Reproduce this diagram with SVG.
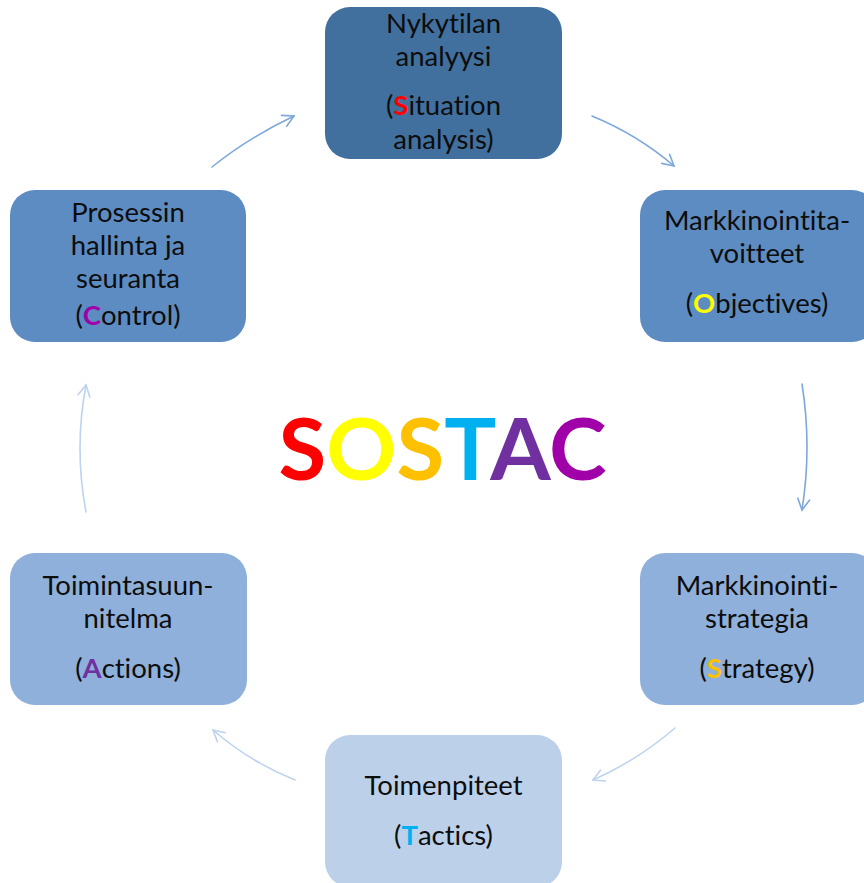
<svg xmlns="http://www.w3.org/2000/svg" width="864" height="883" viewBox="0 0 864 883">
  <style>
    .box { stroke: none; }
    .lbl { font-family: Lato, "Open Sans", "Liberation Sans", sans-serif; font-size: 27.5px; fill: #0d0d0d; text-anchor: middle; font-variant-ligatures: none; }
    .key { font-weight: bold; }
    .title { font-family: Lato, "Open Sans", "Liberation Sans", sans-serif; font-size: 87px; font-weight: bold; text-anchor: middle; }
    .arc { fill: none; stroke-width: 1.6; stroke-linecap: round; }
    .dark { stroke: #7DA8DA; }
    .light { stroke: #BDD3EE; }
  </style>
  <defs>
    <marker id="headDark" markerWidth="14" markerHeight="14" refX="0" refY="0" viewBox="-12 -7 14 14" orient="auto" markerUnits="userSpaceOnUse">
      <path d="M-11,-6 L0,0 L-11,6" fill="none" stroke="#7DA8DA" stroke-width="1.6" stroke-linecap="round"/>
    </marker>
    <marker id="headLight" markerWidth="14" markerHeight="14" refX="0" refY="0" viewBox="-12 -7 14 14" orient="auto" markerUnits="userSpaceOnUse">
      <path d="M-11,-6 L0,0 L-11,6" fill="none" stroke="#BDD3EE" stroke-width="1.6" stroke-linecap="round"/>
    </marker>
  </defs>

  <rect width="864" height="883" fill="#ffffff"/>

  <!-- cycle connectors -->
  <g id="connectors">
    <path class="arc dark" d="M212,167 Q248,138 294,116" marker-end="url(#headDark)"/>
    <path class="arc dark" d="M592,116 Q638,135 674,166" marker-end="url(#headDark)"/>
    <path class="arc dark" d="M802,384 Q812,447 802,510" marker-end="url(#headDark)"/>
    <path class="arc light" d="M675,728 Q638,760 593,780" marker-end="url(#headLight)"/>
    <path class="arc light" d="M295,780 Q250,762 213,730" marker-end="url(#headLight)"/>
    <path class="arc light" d="M86,512 Q74,448 86,385" marker-end="url(#headLight)"/>
  </g>

  <!-- S: situation analysis -->
  <g id="situation">
    <rect class="box" x="325" y="7" width="237" height="152" rx="25" fill="#41709E"/>
    <text class="lbl" x="443.5" y="33">Nykytilan</text>
    <text class="lbl" x="443.5" y="66">analyysi</text>
    <text class="lbl" x="443.5" y="115">(<tspan class="key" fill="#FF0000">S</tspan>ituation</text>
    <text class="lbl" x="443.5" y="149">analysis)</text>
  </g>

  <!-- O: objectives -->
  <g id="objectives">
    <rect class="box" x="640" y="190" width="237" height="152" rx="25" fill="#5D8CC3"/>
    <text class="lbl" x="757" y="230">Markkinointita-</text>
    <text class="lbl" x="757" y="263">voitteet</text>
    <text class="lbl" x="757" y="313">(<tspan class="key" fill="#FFFF00">O</tspan>bjectives)</text>
  </g>

  <!-- S: strategy -->
  <g id="strategy">
    <rect class="box" x="640" y="553" width="237" height="152" rx="25" fill="#8EB0DA"/>
    <text class="lbl" x="757" y="595">Markkinointi-</text>
    <text class="lbl" x="757" y="628">strategia</text>
    <text class="lbl" x="757" y="678">(<tspan class="key" fill="#FFC000">S</tspan>trategy)</text>
  </g>

  <!-- T: tactics -->
  <g id="tactics">
    <rect class="box" x="325" y="735" width="237" height="152" rx="25" fill="#BCD0EA"/>
    <text class="lbl" x="443.5" y="795">Toimenpiteet</text>
    <text class="lbl" x="443.5" y="845">(<tspan class="key" fill="#00B0F0">T</tspan>actics)</text>
  </g>

  <!-- A: actions -->
  <g id="actions">
    <rect class="box" x="10" y="553" width="237" height="152" rx="25" fill="#8EB0DA"/>
    <text class="lbl" x="128" y="595">Toimintasuun-</text>
    <text class="lbl" x="128" y="628">nitelma</text>
    <text class="lbl" x="128" y="678">(<tspan class="key" fill="#7030A0">A</tspan>ctions)</text>
  </g>

  <!-- C: control -->
  <g id="control">
    <rect class="box" x="10" y="190" width="236" height="152" rx="25" fill="#5D8CC3"/>
    <text class="lbl" x="128" y="222">Prosessin</text>
    <text class="lbl" x="128" y="255">hallinta ja</text>
    <text class="lbl" x="128" y="288">seuranta</text>
    <text class="lbl" x="128" y="325">(<tspan class="key" fill="#A000A8">C</tspan>ontrol)</text>
  </g>

  <!-- centre title -->
  <g id="title">
    <text class="title" x="442.5" y="480"><tspan fill="#FF0000">S</tspan><tspan fill="#FFFF00">O</tspan><tspan fill="#FFC000">S</tspan><tspan fill="#00B0F0">T</tspan><tspan fill="#7030A0">A</tspan><tspan fill="#A000A8">C</tspan></text>
  </g>
</svg>
